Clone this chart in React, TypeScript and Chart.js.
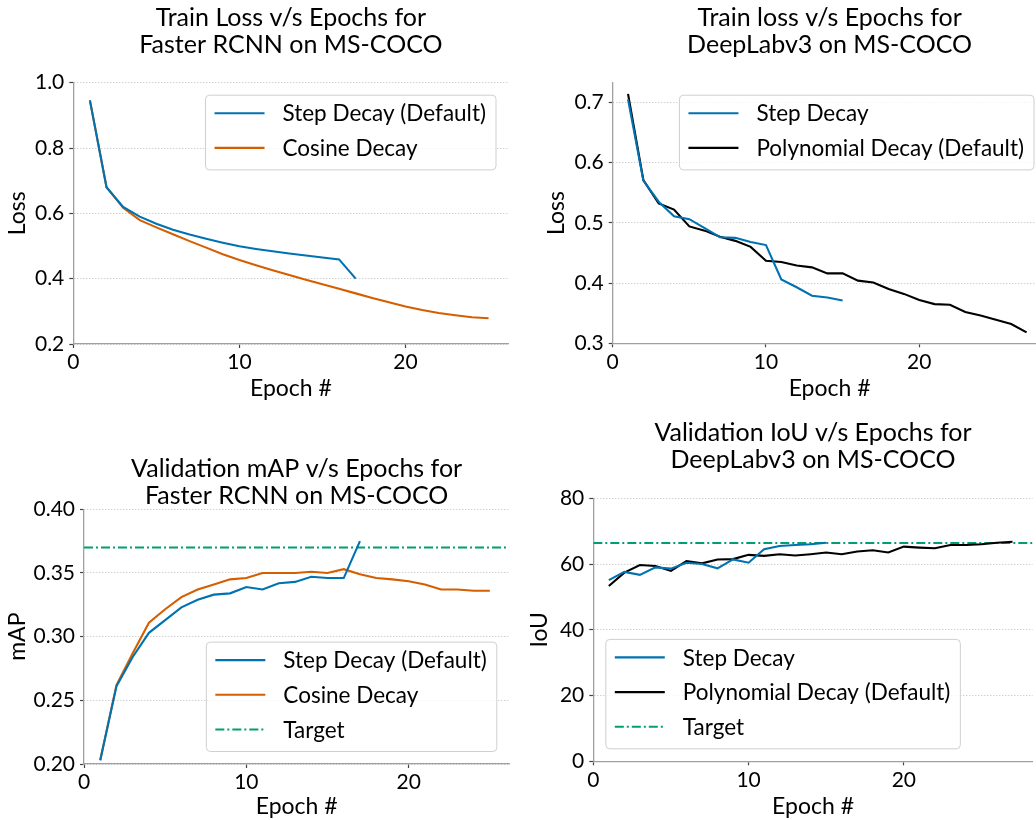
import React, { useEffect, useRef } from 'react';
import { Chart, registerables } from 'chart.js';

Chart.register(...registerables);

const FONT = 'Lato, "DejaVu Sans", sans-serif';
const BLUE = '#0072B2';
const ORANGE = '#D55E00';
const GREEN = '#009E73';
const BLACK = '#000000';
const SPINE = '#a0a0a0';
const TICK = '#444444';
const GRID = '#b4b4b4';

// ---------------- data ----------------
const EPOCHS_15 = [1, 2, 3, 4, 5, 6, 7, 8, 9, 10, 11, 12, 13, 14, 15];
const EPOCHS_17 = [1, 2, 3, 4, 5, 6, 7, 8, 9, 10, 11, 12, 13, 14, 15, 16, 17];
const EPOCHS_25 = [1, 2, 3, 4, 5, 6, 7, 8, 9, 10, 11, 12, 13, 14, 15, 16, 17, 18, 19, 20, 21, 22, 23, 24, 25];
const EPOCHS_27 = [1, 2, 3, 4, 5, 6, 7, 8, 9, 10, 11, 12, 13, 14, 15, 16, 17, 18, 19, 20, 21, 22, 23, 24, 25, 26, 27];

// Train loss, Faster RCNN
const FRCNN_STEP_LOSS = [0.946, 0.68, 0.62, 0.59, 0.568, 0.55, 0.535, 0.522, 0.51, 0.499, 0.491, 0.484, 0.477, 0.471, 0.465, 0.459, 0.40];
const FRCNN_COSINE_LOSS = [0.946, 0.68, 0.617, 0.579, 0.557, 0.536, 0.515, 0.495, 0.475, 0.457, 0.441, 0.426, 0.411, 0.397, 0.383, 0.369, 0.355, 0.341, 0.328, 0.315, 0.304, 0.295, 0.288, 0.282, 0.279];

// Train loss, DeepLabv3
const DL_STEP_LOSS = [0.705, 0.57, 0.535, 0.511, 0.506, 0.491, 0.476, 0.475, 0.468, 0.463, 0.406, 0.393, 0.379, 0.376, 0.371];
const DL_POLY_LOSS = [0.714, 0.571, 0.532, 0.522, 0.494, 0.487, 0.477, 0.470, 0.460, 0.437, 0.435, 0.429, 0.426, 0.416, 0.416, 0.404, 0.401, 0.390, 0.382, 0.372, 0.365, 0.364, 0.352, 0.346, 0.339, 0.332, 0.318];

// Validation mAP, Faster RCNN
const FRCNN_STEP_MAP = [0.203, 0.261, 0.284, 0.303, 0.313, 0.323, 0.329, 0.333, 0.334, 0.339, 0.337, 0.342, 0.343, 0.347, 0.346, 0.346, 0.375];
const FRCNN_COSINE_MAP = [0.203, 0.262, 0.287, 0.311, 0.3215, 0.331, 0.337, 0.341, 0.345, 0.346, 0.350, 0.350, 0.350, 0.351, 0.350, 0.353, 0.349, 0.346, 0.345, 0.3435, 0.341, 0.337, 0.337, 0.336, 0.336];
const FRCNN_TARGET_MAP = 0.37;

// Validation IoU, DeepLabv3
const DL_STEP_IOU = [55.1, 57.6, 56.7, 59.0, 58.6, 60.4, 60.0, 58.7, 61.4, 60.4, 64.5, 65.5, 65.8, 66.0, 66.5];
const DL_POLY_IOU = [53.3, 57.4, 59.7, 59.4, 57.9, 60.9, 60.2, 61.4, 61.5, 62.8, 62.5, 63.0, 62.6, 63.0, 63.5, 63.0, 63.8, 64.2, 63.5, 65.3, 65.0, 64.8, 65.8, 65.8, 66.0, 66.5, 66.8];
const DL_TARGET_IOU = 66.4;

// ticks
const X_TICKS = [0, 10, 20];
const Y_TICKS_FRCNN_LOSS = [0.2, 0.4, 0.6, 0.8, 1.0];
const Y_TICKS_DL_LOSS = [0.3, 0.4, 0.5, 0.6, 0.7];
const Y_TICKS_MAP = [0.2, 0.25, 0.3, 0.35, 0.4];
const Y_TICKS_IOU = [0, 20, 40, 60, 80];

// --------------- helpers ---------------
const pts = (xs: number[], ys: number[]) => ys.map((y, i) => ({ x: xs[i], y }));

type Rect = { left: number; top: number; width: number; height: number };
type Area = { left: number; top: number; right: number; bottom: number };

type Panel = {
  canvas: Rect;
  area: Area;
  title: string[];
  titleGap: number;
  xLabel: string;
  yLabel: string;
  yTitlePad: number;
  xTitlePad: number;
  xMin: number;
  xMax: number;
  yMin: number;
  yMax: number;
  yTicks: number[];
  yDecimals: number;
  legendCorner: 'tr' | 'br' | 'bl';
  datasets: any[];
};

const line = (label: string, color: string, data: any[], dash: number[] = []) => ({
  label,
  data,
  borderColor: color,
  backgroundColor: color,
  borderWidth: 2.1,
  borderDash: dash,
  pointRadius: 0,
  tension: 0,
  fill: false,
});

const DASHDOT = [9, 3, 2, 3];

const PANELS: Panel[] = [
  {
    canvas: { left: 0, top: 0, width: 520, height: 410 },
    area: { left: 73.3, top: 82.7, right: 508.5, bottom: 344 },
    title: ['Train Loss v/s Epochs for', 'Faster RCNN on MS-COCO'],
    titleGap: 37.7,
    xLabel: 'Epoch #',
    yLabel: 'Loss',
    yTitlePad: 4,
    xTitlePad: 7.5,
    xMin: 0,
    xMax: 26.2,
    yMin: 0.2,
    yMax: 1.0,
    yTicks: Y_TICKS_FRCNN_LOSS,
    yDecimals: 1,
    legendCorner: 'tr',
    datasets: [
      line('Step Decay (Default)', BLUE, pts(EPOCHS_17, FRCNN_STEP_LOSS)),
      line('Cosine Decay', ORANGE, pts(EPOCHS_25, FRCNN_COSINE_LOSS)),
    ],
  },
  {
    canvas: { left: 520, top: 0, width: 560, height: 410 },
    area: { left: 612.7, top: 82.7, right: 1046.5, bottom: 343.3 },
    title: ['Train loss v/s Epochs for', 'DeepLabv3 on MS-COCO'],
    titleGap: 37.7,
    xLabel: 'Epoch #',
    yLabel: 'Loss',
    yTitlePad: 23,
    xTitlePad: 7.5,
    xMin: 0,
    xMax: 28.3,
    yMin: 0.3,
    yMax: 0.7325,
    yTicks: Y_TICKS_DL_LOSS,
    yDecimals: 1,
    legendCorner: 'tr',
    datasets: [
      line('Step Decay', BLUE, pts(EPOCHS_15, DL_STEP_LOSS)),
      line('Polynomial Decay (Default)', BLACK, pts(EPOCHS_27, DL_POLY_LOSS)),
    ],
  },
  {
    canvas: { left: 0, top: 410, width: 520, height: 410 },
    area: { left: 84, top: 509.3, right: 509.3, bottom: 764 },
    title: ['Validation mAP v/s Epochs for', 'Faster RCNN on MS-COCO'],
    titleGap: 13.3,
    xLabel: 'Epoch #',
    yLabel: 'mAP',
    yTitlePad: 4,
    xTitlePad: 0,
    xMin: 0,
    xMax: 26.2,
    yMin: 0.2,
    yMax: 0.4,
    yTicks: Y_TICKS_MAP,
    yDecimals: 2,
    legendCorner: 'br',
    datasets: [
      line('Step Decay (Default)', BLUE, pts(EPOCHS_17, FRCNN_STEP_MAP)),
      line('Cosine Decay', ORANGE, pts(EPOCHS_25, FRCNN_COSINE_MAP)),
      line('Target', GREEN, [
        { x: 0, y: FRCNN_TARGET_MAP },
        { x: 26.2, y: FRCNN_TARGET_MAP },
      ], DASHDOT),
    ],
  },
  {
    canvas: { left: 520, top: 410, width: 560, height: 410 },
    area: { left: 593.3, top: 498.3, right: 1032.7, bottom: 761.3 },
    title: ['Validation IoU v/s Epochs for', 'DeepLabv3 on MS-COCO'],
    titleGap: 38,
    xLabel: 'Epoch #',
    yLabel: 'IoU',
    yTitlePad: 6,
    xTitlePad: 0,
    xMin: 0,
    xMax: 28.3,
    yMin: 0,
    yMax: 80,
    yTicks: Y_TICKS_IOU,
    yDecimals: 0,
    legendCorner: 'bl',
    datasets: [
      line('Step Decay', BLUE, pts(EPOCHS_15, DL_STEP_IOU)),
      line('Polynomial Decay (Default)', BLACK, pts(EPOCHS_27, DL_POLY_IOU)),
      line('Target', GREEN, [
        { x: 0, y: DL_TARGET_IOU },
        { x: 28.3, y: DL_TARGET_IOU },
      ], DASHDOT),
    ],
  },
];

const TICK_SIZE = 21;
const LABEL_SIZE = 23;
const TITLE_SIZE = 25;
const LEGEND_SIZE = 22.5;

const decoPlugin = (panel: Panel) => ({
  id: 'deco',
  afterDatasetsDraw(chart: any) {
    const ctx = chart.ctx as CanvasRenderingContext2D;
    const a = chart.chartArea;
    const ds = chart.data.datasets;
    ctx.save();
    ctx.font = `${LEGEND_SIZE}px ${FONT}`;
    let maxW = 0;
    ds.forEach((d: any) => {
      maxW = Math.max(maxW, ctx.measureText(d.label).width);
    });
    const padL = 9, lineLen = 50, gap = 18, padR = 10, rowH = 34.7, padT = 18, padB = 22;
    const w = padL + lineLen + gap + maxW + padR;
    const h = padT + (ds.length - 1) * rowH + padB;
    const off = 12.5;
    let x = 0, y = 0;
    if (panel.legendCorner === 'tr') { x = a.right - off - w; y = a.top + off; }
    if (panel.legendCorner === 'br') { x = a.right - off - w; y = a.bottom - off - h; }
    if (panel.legendCorner === 'bl') { x = a.left + off; y = a.bottom - off - h; }
    ctx.beginPath();
    (ctx as any).roundRect(x, y, w, h, 4);
    ctx.fillStyle = 'rgba(255,255,255,0.8)';
    ctx.fill();
    ctx.lineWidth = 1;
    ctx.strokeStyle = '#cfcfcf';
    ctx.stroke();
    ds.forEach((d: any, i: number) => {
      const ry = y + padT + i * rowH;
      ctx.beginPath();
      ctx.setLineDash(d.borderDash || []);
      ctx.strokeStyle = d.borderColor;
      ctx.lineWidth = 2.1;
      ctx.moveTo(x + padL, ry);
      ctx.lineTo(x + padL + lineLen, ry);
      ctx.stroke();
      ctx.setLineDash([]);
      ctx.fillStyle = '#000';
      ctx.textAlign = 'left';
      ctx.textBaseline = 'middle';
      ctx.fillText(d.label, x + padL + lineLen + gap, ry + 1);
    });
    ctx.restore();
  },
  afterDraw(chart: any) {
    const ctx = chart.ctx as CanvasRenderingContext2D;
    const a = chart.chartArea;
    ctx.save();
    ctx.font = `${TITLE_SIZE}px ${FONT}`;
    ctx.fillStyle = '#000';
    ctx.textAlign = 'center';
    ctx.textBaseline = 'middle';
    const cx = (a.left + a.right) / 2;
    const n = panel.title.length;
    panel.title.forEach((t, i) => {
      ctx.fillText(t, cx, a.top - panel.titleGap - (n - 1 - i) * 27);
    });
    ctx.restore();
  },
});

function PanelChart({ panel }: { panel: Panel }) {
  const ref = useRef<HTMLCanvasElement | null>(null);
  useEffect(() => {
    if (!ref.current) return;
    const c = panel.canvas;
    const a = panel.area;
    const yWidth = a.left - c.left;
    const xHeight = c.top + c.height - a.bottom;
    const chart = new Chart(ref.current, {
      type: 'line',
      data: { datasets: panel.datasets },
      options: {
        animation: false,
        responsive: false,
        maintainAspectRatio: false,
        events: [],
        layout: {
          padding: { left: 0, top: a.top - c.top, right: c.left + c.width - a.right, bottom: 0 },
        },
        plugins: {
          legend: { display: false },
          title: { display: false },
          tooltip: { enabled: false },
        },
        scales: {
          x: {
            type: 'linear',
            min: panel.xMin,
            max: panel.xMax,
            afterBuildTicks: (s: any) => {
              s.ticks = X_TICKS.map((v) => ({ value: v }));
            },
            afterFit: (s: any) => {
              s.height = xHeight;
            },
            grid: {
              drawOnChartArea: false,
              drawTicks: true,
              tickLength: 4,
              tickColor: TICK,
              tickWidth: 1.2,
            },
            border: { display: true, color: SPINE, width: 1.3 },
            ticks: {
              font: { family: FONT, size: TICK_SIZE },
              color: '#000',
              padding: 2,
              maxRotation: 0,
              autoSkip: false,
              callback: (v: any) => String(v),
            },
            title: {
              display: true,
              text: panel.xLabel,
              font: { family: FONT, size: LABEL_SIZE },
              color: '#000',
              padding: { top: 0, bottom: panel.xTitlePad },
            },
          },
          y: {
            type: 'linear',
            min: panel.yMin,
            max: panel.yMax,
            afterBuildTicks: (s: any) => {
              s.ticks = panel.yTicks.map((v) => ({ value: v }));
            },
            afterFit: (s: any) => {
              s.width = yWidth;
            },
            grid: {
              drawOnChartArea: true,
              drawTicks: true,
              tickLength: 4,
              tickColor: TICK,
              tickWidth: 1.2,
              color: GRID,
              lineWidth: 0.9,
            },
            border: { display: true, color: SPINE, width: 1.3, dash: [1, 2] },
            ticks: {
              font: { family: FONT, size: TICK_SIZE },
              color: '#000',
              padding: 5,
              autoSkip: false,
              callback: (v: any) => Number(v).toFixed(panel.yDecimals),
            },
            title: {
              display: true,
              text: panel.yLabel,
              font: { family: FONT, size: LABEL_SIZE },
              color: '#000',
              padding: { top: panel.yTitlePad, bottom: 0 },
            },
          },
        },
      } as any,
      plugins: [decoPlugin(panel)],
    });
    return () => chart.destroy();
  }, [panel]);
  const c = panel.canvas;
  return (
    <canvas
      ref={ref}
      width={c.width}
      height={c.height}
      style={{ position: 'absolute', left: c.left, top: c.top, width: c.width, height: c.height }}
    />
  );
}

export default function App() {
  return (
    <div
      style={{
        position: 'fixed',
        left: 0,
        top: 0,
        width: 1036,
        height: 820,
        overflow: 'hidden',
        background: '#ffffff',
      }}
    >
      {PANELS.map((p, i) => (
        <PanelChart key={i} panel={p} />
      ))}
    </div>
  );
}
